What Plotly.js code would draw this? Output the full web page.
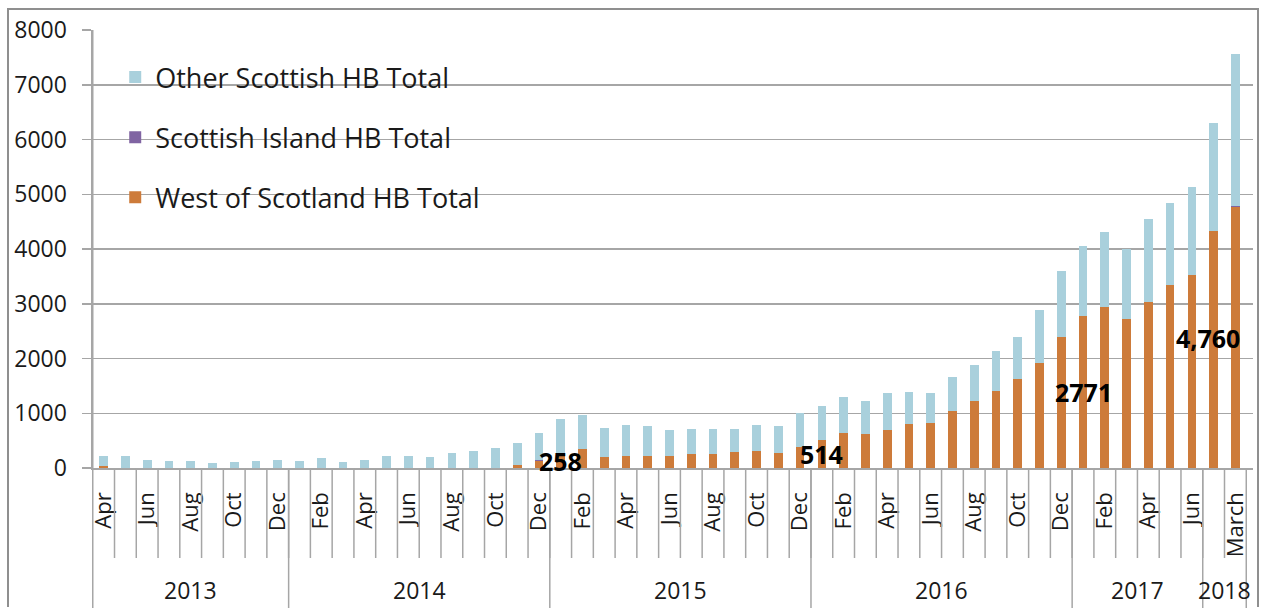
<!DOCTYPE html>
<html>
<head>
<meta charset="utf-8">
<script src="https://cdn.plot.ly/plotly-3.0.1.min.js"></script>
<style>
  html, body { margin:0; padding:0; background:#fff; }
  #wrap { position:relative; width:1262px; height:608px; }
  #chart { position:absolute; left:0; top:0; width:1262px; height:608px; }
  #frame { position:absolute; left:7px; top:8px; width:1248px; height:597px; border:2px solid #8f8f8f; border-bottom:none; pointer-events:none; }
</style>
</head>
<body>
<div id="wrap"><div id="chart"></div><div id="frame"></div></div>
<script>
// ---- data ----
const months = [
  'Apr','May','Jun','Jul','Aug','Sep','Oct','Nov','Dec',
  'Jan','Feb','Mar','Apr','May','Jun','Jul','Aug','Sep','Oct','Nov','Dec',
  'Jan','Feb','Mar','Apr','May','Jun','Jul','Aug','Sep','Oct','Nov','Dec',
  'Jan','Feb','Mar','Apr','May','Jun','Jul','Aug','Sep','Oct','Nov','Dec',
  'Jan','Feb','Mar','Apr','May','Jun',
  'Feb','March'
];
const yearNames = ['2013','2014','2015','2016','2017','2018'];
const monthsPerYear = [9, 12, 12, 12, 6, 2];

const westOfScotland = [
  42,0,0,0,0,0,0,0,0,
  0,0,0,0,0,0,0,0,0,0,60,135,
  258,340,200,225,225,225,248,248,292,316,273,389,
  514,642,624,691,812,830,1042,1224,1412,1624,1927,2400,
  2771,2934,2722,3032,3335,3518,
  4320,4760
];
const scottishIsland = [
  0,0,0,0,0,0,0,0,0,
  0,0,0,0,0,0,0,0,0,0,0,10,
  0,0,0,0,0,0,0,0,0,0,0,0,
  0,0,0,0,0,0,0,0,0,0,0,0,
  0,0,0,0,0,0,
  0,20
];
const otherScottish = [
  180,222,150,132,132,84,108,132,150,
  132,174,108,150,222,222,198,269,317,359,392,495,
  642,633,535,560,535,468,464,464,420,469,487,614,
  621,655,600,673,576,534,625,655,727,770,952,1206,
  1281,1379,1282,1512,1513,1616,
  1980,2784
];
const yTicks = [0,1000,2000,3000,4000,5000,6000,7000,8000];

// labelled West of Scotland values
const labelIndex = [21, 33, 45, 52];
const labelText = ['258', '514', '2771', '4,760'];

// ---- build categories ----
const years = [];
monthsPerYear.forEach((n, k) => { for (let i = 0; i < n; i++) years.push(yearNames[k]); });
const cats = months.map((m, i) => m + ' ' + years[i]);
const tickvals = cats.filter((c, i) => i % 2 === 0);
const ticktext = months.filter((m, i) => i % 2 === 0);

// ---- pixel geometry helpers (plot area 92..1253 x 30..468) ----
const PLOT_H = 438;
const py = px => (468 - px) / PLOT_H;   // page y pixel -> paper y

const traces = [
  { name:'West of Scotland HB Total', x:cats, y:westOfScotland, type:'bar',
    marker:{color:'#CD7B3A'}, legendgroup:'w', legendrank:3 },
  { name:'Scottish Island HB Total', x:cats, y:scottishIsland, type:'bar',
    marker:{color:'#8064A2'}, legendgroup:'i', legendrank:2 },
  { name:'Other Scottish HB Total', x:cats, y:otherScottish, type:'bar',
    marker:{color:'#A9D0DC'}, legendgroup:'o', legendrank:1 }
];

const shapes = [];
// month dividers
for (let i = 1; i < cats.length; i++) {
  shapes.push({ type:'line', xref:'x', yref:'paper', x0:i-0.5, x1:i-0.5,
    y0:0, y1:py(558), line:{color:'#a6a6a6', width:1.5} });
}
// year dividers (incl. both ends)
let acc = 0;
const yearBounds = [0];
monthsPerYear.forEach(n => { acc += n; yearBounds.push(acc); });
yearBounds.forEach(b => {
  shapes.push({ type:'line', xref:'x', yref:'paper', x0:b-0.5, x1:b-0.5,
    y0:(b === 0 ? 1 : 0), y1:py(610), line:{color:'#a6a6a6', width:1.5} });
});

const annotations = [];
// year labels
monthsPerYear.forEach((n, k) => {
  annotations.push({ xref:'x', yref:'paper', x:yearBounds[k] + (n - 1) / 2, y:py(590),
    text:yearNames[k], showarrow:false, xanchor:'center', yanchor:'middle',
    font:{size:23, family:'Open Sans', color:'#1a1a1a'} });
});
// data labels (centred on the West of Scotland segment)
labelIndex.forEach((idx, k) => {
  annotations.push({ xref:'x', yref:'y', x:cats[idx], y:westOfScotland[idx] / 2,
    text:'<b>' + labelText[k] + '</b>', showarrow:false, xanchor:'center', yanchor:'middle',
    xshift:(idx === cats.length - 1 ? -27 : 0),
    font:{size:25, family:'Open Sans', color:'#000'} });
});

const layout = {
  width:1262, height:608,
  margin:{l:92, r:9, t:30, b:140, pad:0},
  paper_bgcolor:'#fff', plot_bgcolor:'#fff',
  barmode:'stack', bargap:0.6,
  font:{family:'Open Sans', color:'#1a1a1a'},
  showlegend:true,
  xaxis:{ type:'category', categoryorder:'array', categoryarray:cats,
    tickmode:'array', tickvals:tickvals, ticktext:ticktext, tickangle:-90,
    tickfont:{size:22, family:'Open Sans', color:'#1a1a1a'},
    ticks:'', showline:true, linecolor:'#a6a6a6', linewidth:1.5,
    showgrid:false, zeroline:false, ticklabelstandoff:14, fixedrange:true },
  yaxis:{ range:[0,8000], tickmode:'array', tickvals:yTicks, ticktext:yTicks.map(String),
    showgrid:true, gridcolor:'#a6a6a6', gridwidth:1.5,
    ticks:'outside', ticklen:9, tickcolor:'#a6a6a6', tickwidth:1.5,
    showline:true, linecolor:'#a6a6a6', linewidth:1.5, zeroline:false,
    tickfont:{size:23, family:'Open Sans', color:'#1a1a1a'}, ticklabelstandoff:10, fixedrange:true },
  legend:{ x:0.02, y:py(53), xanchor:'left', yanchor:'top', traceorder:'grouped',
    font:{size:27, family:'Open Sans', color:'#1a1a1a'}, tracegroupgap:22,
    bgcolor:'rgba(0,0,0,0)', borderwidth:0 },
  shapes:shapes,
  annotations:annotations
};

Plotly.newPlot('chart', traces, layout, {displayModeBar:false, staticPlot:true});
</script>
</body>
</html>
